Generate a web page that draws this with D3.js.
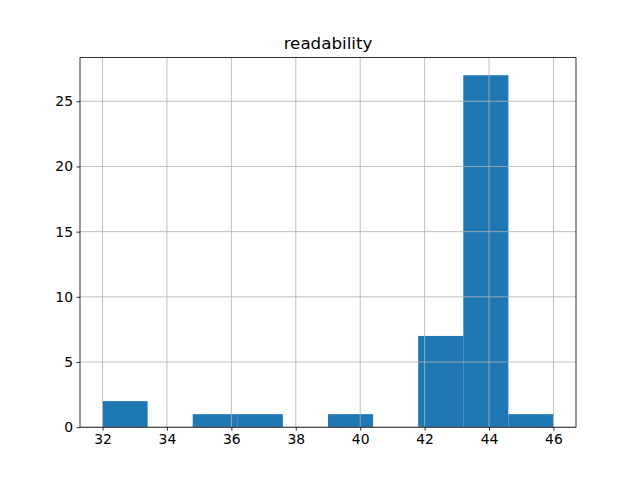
<!DOCTYPE html>
<html><head><meta charset="utf-8">
<script src="https://cdn.jsdelivr.net/npm/d3@7"></script>
<style>body{margin:0;background:#fff}svg{display:block}text{font-family:"DejaVu Sans",sans-serif}</style>
</head><body>
<svg id="c" width="640" height="480"></svg>
<script>
const title = "readability";
const binEdges = [32, 33.4, 34.8, 36.2, 37.6, 39, 40.4, 41.8, 43.2, 44.6, 46];
const counts = [2, 0, 1, 1, 0, 1, 0, 7, 27, 1];
const xTicks = [32, 34, 36, 38, 40, 42, 44, 46];
const yTicks = [0, 5, 10, 15, 20, 25];

const svg = d3.select("#c");
const L = 80, R = 576, T = 57.6, B = 427.2;
const xmin = 32 - 0.05 * 14, xmax = 46 + 0.05 * 14;
const x = d3.scaleLinear().domain([xmin, xmax]).range([L, R]);
const y = d3.scaleLinear().domain([0, 27 * 1.05]).range([B, T]);

const bins = counts.map((c, i) => ({x0: binEdges[i], x1: binEdges[i + 1], c}));
svg.append("g").selectAll("rect").data(bins.filter(d => d.c > 0)).join("rect")
  .attr("x", d => x(d.x0)).attr("width", d => x(d.x1) - x(d.x0))
  .attr("y", d => y(d.c)).attr("height", d => y(0) - y(d.c))
  .attr("fill", "#1f77b4");

// grid on top
const g = svg.append("g").attr("stroke", "#b0b0b0").attr("stroke-width", 0.8);
g.selectAll(".vx").data(xTicks).join("line")
  .attr("x1", d => x(d)).attr("x2", d => x(d)).attr("y1", T).attr("y2", B);
g.selectAll(".hy").data(yTicks).join("line")
  .attr("y1", d => y(d)).attr("y2", d => y(d)).attr("x1", L).attr("x2", R);

const xa = svg.append("g").attr("transform", `translate(0,${B})`)
  .call(d3.axisBottom(x).tickValues(xTicks).tickSize(3.5).tickPadding(3.5).tickFormat(d3.format("d")));
const ya = svg.append("g").attr("transform", `translate(${L},0)`)
  .call(d3.axisLeft(y).tickValues(yTicks).tickSize(3.5).tickPadding(3.5).tickFormat(d3.format("d")));
[xa, ya].forEach(a => {
  a.select(".domain").remove();
  a.selectAll("line").attr("stroke", "#000").attr("stroke-width", 0.8);
  a.selectAll("text").attr("font-size", "13.9px").attr("fill", "#000").attr("font-family", "DejaVu Sans");
});

svg.append("rect").attr("x", L).attr("y", T).attr("width", R - L).attr("height", B - T)
  .attr("fill", "none").attr("stroke", "#000").attr("stroke-width", 0.8);

svg.append("text").attr("x", (L + R) / 2).attr("y", T - 9).attr("text-anchor", "middle")
  .attr("font-size", "16.7px").attr("fill", "#000").text(title);
</script>
</body></html>
